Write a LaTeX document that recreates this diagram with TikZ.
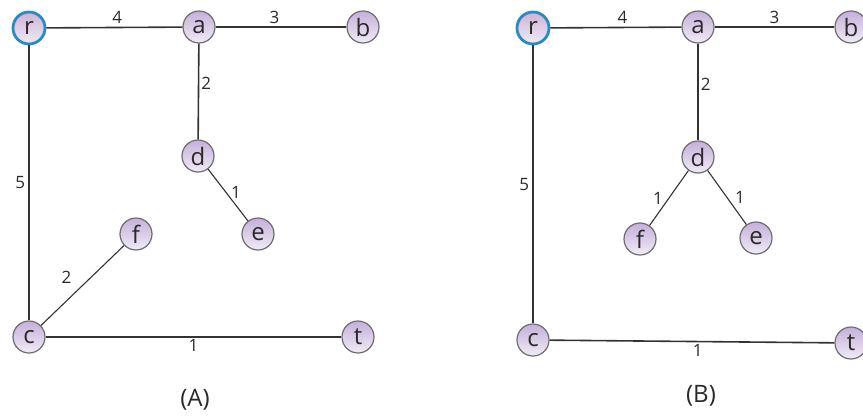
\documentclass[tikz,border=0pt]{standalone}
\usepackage{fontspec}
\setmainfont{Open Sans}
\definecolor{lavTop}{HTML}{C4B0DA}
\definecolor{lavBot}{HTML}{F1EBF6}
\definecolor{rimGray}{HTML}{6E6E6E}
\definecolor{rimBlue}{HTML}{2A8AC4}
\definecolor{edgeCol}{HTML}{333333}
\definecolor{txtCol}{HTML}{2A2A2A}
\begin{document}
\begin{tikzpicture}[x=1pt,y=-1pt,
  vert/.style={circle, minimum size=32pt, inner sep=0pt, draw=rimGray, line width=1.2pt,
    top color=lavTop, bottom color=lavBot, font=\fontsize{24}{24}\selectfont, text=txtCol},
  root/.style={vert, draw=rimBlue, line width=2.8pt, top color=lavTop!85!pink, bottom color=lavBot},
  edg/.style={draw=edgeCol, line width=1.6pt},
  lbl/.style={font=\fontsize{17}{17}\selectfont, text=txtCol, inner sep=2pt},
  captext/.style={font=\fontsize{24}{24}\selectfont, text=txtCol}]
\useasboundingbox (0,0) rectangle (863,418);
\clip (0,0) rectangle (863,418);
% ---------- (A) ----------
\node[root] (rA) at (29,28) {r};
\node[vert] (aA) at (199,27) {a};
\node[vert] (bA) at (363,27) {b};
\node[vert] (dA) at (198,156) {d};
\node[vert] (eA) at (258,234) {e};
\node[vert] (fA) at (136,234) {f};
\node[vert] (cA) at (29,337) {c};
\node[vert] (tA) at (358,337) {t};
\draw[edg] (rA) -- node[lbl, above, pos=0.52, yshift=1pt] {4} (aA);
\draw[edg] (aA) -- node[lbl, above, pos=0.45, yshift=1pt] {3} (bA);
\draw[edg] (aA) -- node[lbl, right, pos=0.42] {2} (dA);
\draw[edg] (rA) -- node[lbl, left, pos=0.5, xshift=-1pt] {5} (cA);
\draw[edg, line width=1.1pt] (dA) -- node[lbl, pos=0.5, xshift=8pt, yshift=3pt] {1} (eA);
\draw[edg, line width=1.1pt] (cA) -- node[lbl, pos=0.5, xshift=-16pt, yshift=8pt] {2} (fA);
\draw[edg] (cA) -- node[lbl, below, pos=0.5] {1} (tA);
\node[captext] (capA) at (195,400) {(A)};
% ---------- (B) ----------
\node[root] (rB) at (533,28) {r};
\node[vert] (aB) at (698,27) {a};
\node[vert] (bB) at (851,27) {b};
\node[vert] (dB) at (698,157) {d};
\node[vert] (fB) at (640,239) {f};
\node[vert] (eB) at (756,238) {e};
\node[vert] (cB) at (533,340) {c};
\node[vert] (tB) at (851,343) {t};
\draw[edg] (rB) -- node[lbl, above, pos=0.55, yshift=1pt] {4} (aB);
\draw[edg] (aB) -- node[lbl, above, pos=0.5, yshift=1pt] {3} (bB);
\draw[edg] (aB) -- node[lbl, right, pos=0.42] {2} (dB);
\draw[edg] (rB) -- node[lbl, left, pos=0.5, xshift=-1pt] {5} (cB);
\draw[edg, line width=1.1pt] (dB) -- node[lbl, pos=0.5, xshift=-11pt] {1} (fB);
\draw[edg, line width=1.1pt] (dB) -- node[lbl, pos=0.5, xshift=13pt] {1} (eB);
\draw[edg] (cB) -- node[lbl, below, pos=0.52] {1} (tB);
\node[captext] (capB) at (701,396) {(B)};
\end{tikzpicture}
\end{document}
